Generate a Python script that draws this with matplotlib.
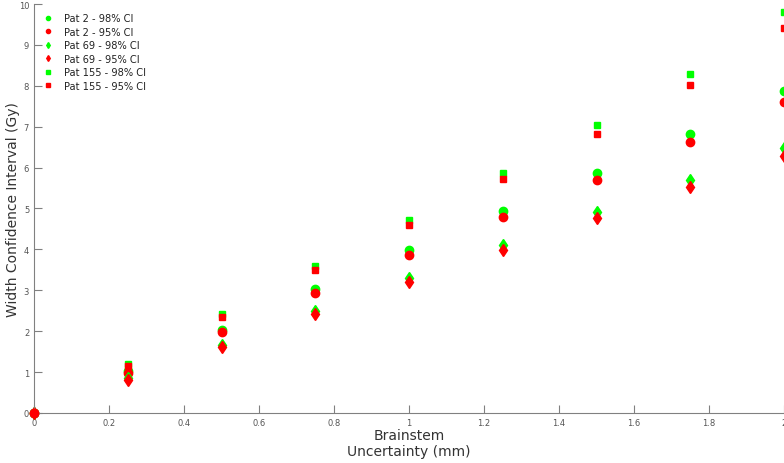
import matplotlib
matplotlib.use("Agg")
import matplotlib.pyplot as plt

# x values: brainstem uncertainty (mm)
x = [0, 0.25, 0.5, 0.75, 1.0, 1.25, 1.5, 1.75, 2.0]
# width of CI (Gy)
pat2_98 = [0, 1.02, 2.03, 3.03, 3.98, 4.93, 5.88, 6.83, 7.88]
pat2_95 = [0, 0.98, 1.97, 2.94, 3.87, 4.80, 5.70, 6.62, 7.61]
pat69_98 = [0, 0.85, 1.67, 2.49, 3.31, 4.10, 4.92, 5.70, 6.49]
pat69_95 = [0, 0.80, 1.61, 2.41, 3.20, 3.98, 4.77, 5.52, 6.29]
pat155_98 = [0, 1.20, 2.42, 3.60, 4.73, 5.87, 7.05, 8.30, 9.81]
pat155_95 = [0, 1.15, 2.35, 3.50, 4.60, 5.72, 6.83, 8.02, 9.41]

fig = plt.figure(figsize=(7.84, 4.64), dpi=100)
ax = fig.add_axes([0.0434, 0.108, 0.9566, 0.881])

green = (0, 1, 0)
red = (1, 0, 0)
ax.plot(x, pat2_98, 'o', color=green, ms=6, label='Pat 2 - 98% CI', clip_on=False)
ax.plot(x, pat2_95, 'o', color=red, ms=6, label='Pat 2 - 95% CI', clip_on=False)
ax.plot(x, pat69_98, 'd', color=green, ms=6, label='Pat 69 - 98% CI', clip_on=False)
ax.plot(x, pat69_95, 'd', color=red, ms=6, label='Pat 69 - 95% CI', clip_on=False)
ax.plot(x, pat155_98, 's', color=green, ms=5, label='Pat 155 - 98% CI', clip_on=False)
ax.plot(x, pat155_95, 's', color=red, ms=5, label='Pat 155 - 95% CI', clip_on=False)
ax.plot(x[:1], pat2_95[:1], 'o', color=red, ms=6, clip_on=False, zorder=5)

ax.set_xlim(0, 2)
ax.set_ylim(0, 10)
ax.set_xticks([0, 0.2, 0.4, 0.6, 0.8, 1, 1.2, 1.4, 1.6, 1.8, 2])
ax.set_xticklabels(['0', '0.2', '0.4', '0.6', '0.8', '1', '1.2', '1.4', '1.6', '1.8', '2'])
ax.set_yticks(range(11))

for s in ['top', 'right']:
    ax.spines[s].set_visible(False)
for s in ['left', 'bottom']:
    ax.spines[s].set_color('#808080')
ax.tick_params(direction='in', length=6, colors='#808080', labelsize=6,
               labelcolor='#555555')

ax.set_xlabel('Brainstem\nUncertainty (mm)', fontsize=10, color='#333333', linespacing=1.1)
ax.xaxis.set_label_coords(0.5, -0.038)
ax.set_ylabel('Width Confidence Interval (Gy)', fontsize=10, color='#333333')
ax.yaxis.set_label_coords(-0.019, 0.5)

ax.legend(loc='upper left', frameon=False, fontsize=7.1, markerscale=0.5,
          handlelength=1, handletextpad=1.1, labelspacing=0.36,
          bbox_to_anchor=(0.0, 1.0), labelcolor='#222222')

fig.savefig('out.png', dpi=100)
